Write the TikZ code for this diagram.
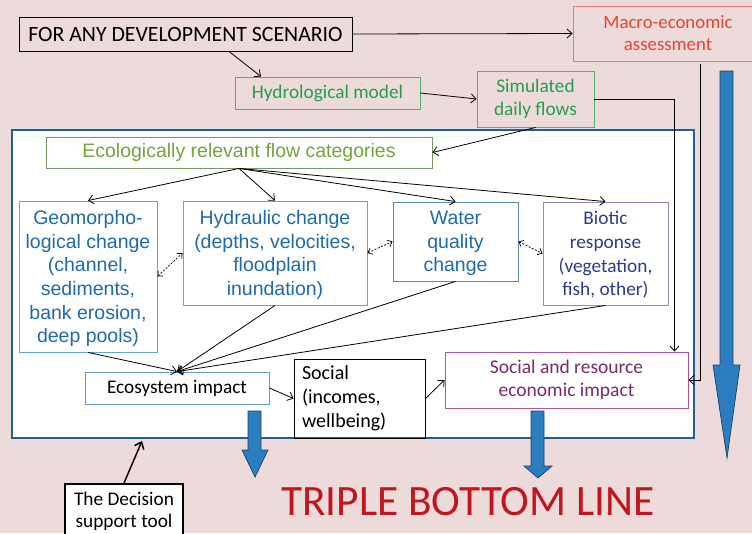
\documentclass[tikz,border=0pt]{standalone}
\usepackage{fontspec}
\setmainfont{Carlito}
\newfontfamily\arialf{Liberation Sans}
\usetikzlibrary{arrows.meta,calc}
\definecolor{bgpink}{HTML}{EDDADA}
\definecolor{dstblue}{HTML}{1F5F99}
\definecolor{arrblue}{HTML}{2A7EC0}
\definecolor{arredge}{HTML}{1F3F5F}
\definecolor{geotext}{HTML}{1F6BAA}
\definecolor{geoline}{HTML}{5DA5DA}
\definecolor{watline}{HTML}{5B8DB8}
\definecolor{biotext}{HTML}{2E3A8C}
\definecolor{bioline}{HTML}{8A90BF}
\definecolor{ecotext}{HTML}{76A23F}
\definecolor{ecoline}{HTML}{7A9860}
\definecolor{hydtext}{HTML}{23A04A}
\definecolor{hydline}{HTML}{4DB56A}
\definecolor{mactext}{HTML}{E8442C}
\definecolor{macline}{HTML}{EE7C6A}
\definecolor{restext}{HTML}{7A2A6E}
\definecolor{resline}{HTML}{B14FA3}
\definecolor{tbltext}{HTML}{C0161C}
\definecolor{ecsline}{HTML}{5A9BCB}
\begin{document}
\begin{tikzpicture}[x=1pt,y=-1pt,
  box/.style={draw, line width=0.9pt, inner sep=2pt, align=center},
  arialtxt/.style={font=\arialf\fontsize{19.5}{23.7}\selectfont},
  calitxt/.style={font=\fontsize{19.3}{23}\selectfont},
  conn/.style={draw=black, line width=0.8pt, -{Straight Barb[length=5pt,width=9pt]}},
  dconn/.style={draw=black, line width=0.7pt, dash pattern=on 2pt off 1.5pt,
    {Straight Barb[length=4pt,width=7pt]}-{Straight Barb[length=4pt,width=7pt]}},
  blockarr/.style={fill=arrblue, draw=arredge, line width=0.7pt}]
\useasboundingbox (0,0) rectangle (752,533);
\clip (0,0) rectangle (752,533);
\fill[bgpink] (0,0) rectangle (752,533);

% top part
\node[box, draw=black, font=\fontsize{21.8}{25}\selectfont, text depth=0pt, minimum width=333pt, minimum height=34pt] (forany) at (185.5,34) {FOR ANY DEVELOPMENT SCENARIO};
\node[box, draw=macline, text=mactext, font=\fontsize{18.8}{22}\selectfont, minimum width=190pt, minimum height=55pt] (macro) at (668,33.5) {Macro-economic\\assessment};
\node[box, draw=hydline, text=hydtext, calitxt, minimum width=185pt, minimum height=32pt] (hydro) at (327.5,93) {Hydrological model};
\node[box, draw=hydline, text=hydtext, calitxt, minimum width=117pt, minimum height=56pt] (sim) at (535.5,99) {Simulated\\daily flows};

% decision support tool frame
\node[draw=dstblue, line width=2pt, fill=white, minimum width=682pt, minimum height=308pt, inner sep=0pt] (dst) at (353,284) {};

\node[box, draw=ecoline, text=ecotext, arialtxt, minimum width=386pt, minimum height=31pt] (eco) at (239,152.5) {Ecologically relevant flow categories};
\node[box, draw=geoline, text=geotext, arialtxt, text depth=0pt, minimum width=138pt, minimum height=151pt] (geo) at (88,276.5) {Geomorpho-\\logical change\\(channel,\\sediments,\\bank erosion,\\deep pools)};
\node[box, draw=geoline, text=geotext, arialtxt, text depth=0pt, minimum width=184pt, minimum height=104pt] (hyd) at (275,253) {Hydraulic change\\(depths, velocities,\\floodplain\\inundation)};
\node[box, draw=watline, text=geotext, arialtxt, text depth=0pt, minimum width=125pt, minimum height=79pt] (wat) at (455.5,241.5) {Water\\quality\\change};
\node[box, draw=bioline, text=biotext, font=\fontsize{19.3}{23.7}\selectfont, text depth=0pt, minimum width=125pt, minimum height=103pt] (bio) at (605.5,253.5) {Biotic\\response\\(vegetation,\\fish, other)};

\node[box, draw=ecsline, calitxt, minimum width=184pt, minimum height=32pt] (ecs) at (177,388) {Ecosystem impact};
\node[draw=black, line width=0.9pt, font=\fontsize{20}{24}\selectfont, align=left, text width=115pt, inner xsep=8pt, minimum height=79pt] (soc) at (359.5,398.5) {Social\\(incomes,\\wellbeing)};
\node[box, draw=resline, text=restext, font=\fontsize{19.5}{23}\selectfont, minimum width=243pt, minimum height=56pt] (res) at (566.5,380) {Social and resource\\economic impact};

\node[box, draw=black, line width=2pt, fill=white, font=\fontsize{19.3}{21.5}\selectfont, minimum width=118pt, minimum height=65pt, anchor=north] (dec) at (124,483) {The Decision\\support tool\\[-8pt]\rule{0pt}{6pt}};
\node[text=tbltext, font=\fontsize{43.3}{48}\selectfont, inner sep=0pt] (tbl) at (468,502) {TRIPLE BOTTOM LINE};

% block arrows
\draw[blockarr] (248,411) -- (261,411) -- (261,450) -- (268,450) -- (255,477) -- (242,450) -- (248,450) -- cycle;
\draw[blockarr] (531,411) -- (544,411) -- (544,466) -- (552,466) -- (538,478) -- (524,466) -- (531,466) -- cycle;
\draw[blockarr] (720,71) -- (733,71) -- (733,365) -- (740,365) -- (727,458) -- (713,365) -- (720,365) -- cycle;

% connectors
\draw[conn] (forany.east) -- (macro.west);
\draw[conn] ($(forany.south)+(43.5,0)$) -- ($(hydro.north)+(-66.5,0)$);
\draw[conn] (hydro.east) -- (sim.west);
\draw[conn] (sim.south) -- (eco.east);
\draw[conn] (sim.east) -| ($(res.north east)+(-14,0)$);
\draw[conn] ($(macro.south)+(32,3)$) |- (res.east);

\draw[conn] (eco.south) -- (geo.north);
\draw[conn] (eco.south) -- (hyd.north);
\draw[conn] (eco.south) -- (wat.north);
\draw[conn] (eco.south) -- (bio.north);

\draw[dconn] (geo.east) -- (hyd.west);
\draw[dconn] (hyd.east) -- (wat.west);
\draw[dconn] (wat.east) -- (bio.west);

\draw[conn] (geo.south) -- (ecs.north);
\draw[conn] (hyd.south) -- (ecs.north);
\draw[conn] (wat.south) -- (ecs.north);
\draw[conn] (bio.south) -- (ecs.north);

\draw[conn] (ecs.east) -- (soc.west);
\draw[conn] (soc.east) -- (res.west);

\draw[line width=1.5pt, -{Straight Barb[length=6pt,width=10pt]}] (dec.north) -- ($(dst.south west)+(131,2)$);
\end{tikzpicture}
\end{document}
